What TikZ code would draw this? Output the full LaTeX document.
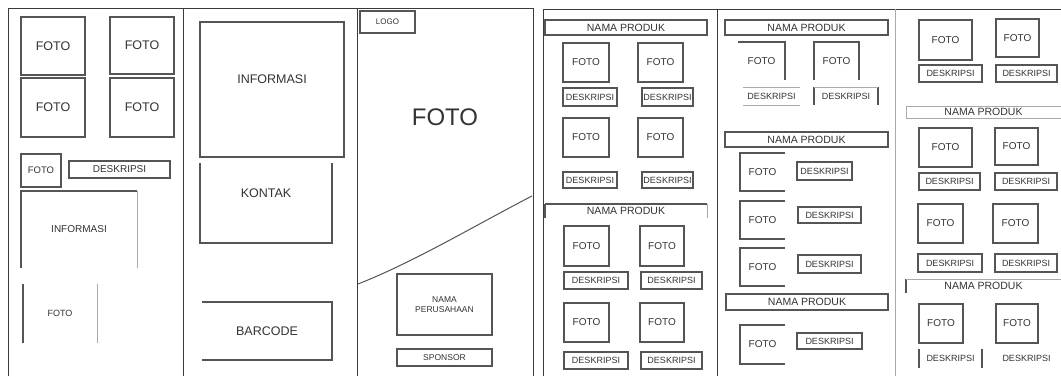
\documentclass[tikz,border=0pt]{standalone}
\usepackage{fontspec}
\setmainfont{Liberation Sans}
\definecolor{linec}{HTML}{555555}
\definecolor{faintc}{HTML}{AAAAAA}
\definecolor{txtc}{HTML}{333333}
\definecolor{framec}{HTML}{3A3A3A}
% name, x1, y1, x2, y2, style, text
\newcommand\wbox[7]{%
  \pgfmathsetmacro\wbcx{(#2+#4)/2}\pgfmathsetmacro\wbcy{(#3+#5)/2}%
  \pgfmathsetmacro\wbw{#4-#2}\pgfmathsetmacro\wbh{#5-#3}%
  \node[lbl, minimum width=\wbw pt, minimum height=\wbh pt, #6] (#1) at (\wbcx,\wbcy) {#7};}
\tikzset{
  ln/.style={draw=linec, line width=1.3pt},
  thin/.style={draw=faintc, line width=1pt},
  frame/.style={draw=framec, line width=1pt},
  lbl/.style={text=txtc, inner sep=0pt, outer sep=0pt, align=center},
  fs/.style={font=\fontsize{#1pt}{#1pt}\selectfont},
  np/.style={fs=10.5},
}
\begin{document}
\begin{tikzpicture}[x=1pt,y=-1pt]
\useasboundingbox[fill=white] (0,0) rectangle (1061,376);
% panel frames
\draw[frame] (8,376) -- (8,8) -- (533,8) -- (533,376);
\draw[frame] (183,8) -- (183,376);
\draw[frame] (357,8) -- (357,376);
\draw[frame] (543,376) -- (543,9) -- (1061,9);
\draw[frame] (717,9) -- (717,376);
\draw[thin] (895,9) -- (895,376);

% ---------- panel 1 ----------
\wbox{a1}{21}{17}{85}{75}{ln,fs=12.5}{FOTO}
\wbox{a2}{110}{17}{174}{74}{ln,fs=12.5}{FOTO}
\wbox{a3}{21}{78}{85}{137}{ln,fs=12.5}{FOTO}
\wbox{a4}{110}{78}{174}{137}{ln,fs=12.5}{FOTO}
\wbox{a5}{21}{154}{61}{187}{ln,fs=9.5}{FOTO}
\wbox{a6}{69}{161}{170}{178}{ln,fs=10}{DESKRIPSI}
\wbox{a7}{21}{191}{137}{268}{fs=10}{INFORMASI}
\draw[ln] (a7.south west) -- (a7.north west) -- (a7.north east);
\draw[thin] (a7.north east) -- (a7.south east);
\wbox{a8}{23}{284}{97}{343}{fs=9}{FOTO}
\draw[ln] (a8.south west) -- (a8.north west);
\draw[thin] (a8.north east) -- (a8.south east);

% ---------- panel 2 ----------
\wbox{b1}{200}{22}{344}{157}{ln,fs=12.5}{INFORMASI\\[8pt]}
\wbox{b2}{200}{163}{332}{243}{fs=12.5}{KONTAK\\[8pt]}
\draw[ln] (b2.north west) -- (b2.south west) -- (b2.south east) -- (b2.north east);
\wbox{b3}{202}{302}{332}{360}{fs=12.5}{BARCODE}
\draw[ln] (b3.north west) -- (b3.north east) -- (b3.south east) -- (b3.south west);

% ---------- panel 3 ----------
\wbox{c1}{360}{11}{415}{33}{ln,fs=8}{LOGO}
\node[lbl, fs=24] (c2) at (445,117) {FOTO};
\coordinate (cl) at (358,284);
\coordinate (cr) at (532,196);
\draw[draw=linec, line width=1pt] (cl) .. controls (414,262) and (474,226) .. (cr);
\wbox{c3}{397}{274}{492}{335}{ln,font=\fontsize{8.5pt}{10pt}\selectfont}{NAMA\\PERUSAHAAN}
\wbox{c4}{397}{349}{492}{366}{ln,fs=8.5}{SPONSOR}

% ---------- panel 4 ----------
\wbox{d0}{545}{20}{707}{35}{ln,np}{NAMA PRODUK}
\wbox{d1}{563}{43}{609}{82}{ln,fs=10}{FOTO}
\wbox{d2}{638}{43}{683}{82}{ln,fs=10}{FOTO}
\wbox{d3}{563}{88}{617}{106}{ln,fs=9}{DESKRIPSI}
\wbox{d4}{642}{88}{693}{106}{ln,fs=9}{DESKRIPSI}
\wbox{d5}{563}{118}{609}{157}{ln,fs=10}{FOTO}
\wbox{d6}{638}{118}{683}{157}{ln,fs=10}{FOTO}
\wbox{d7}{563}{172}{617}{188}{ln,fs=9}{DESKRIPSI}
\wbox{d8}{642}{172}{693}{188}{ln,fs=9}{DESKRIPSI}
\wbox{e0}{545}{204}{707}{218}{np}{NAMA PRODUK}
\draw[draw=linec, line width=2pt] (e0.south west) -- (e0.north west);
\draw[ln] (e0.north west) -- (e0.north east);
\draw[thin] (e0.north east) -- (e0.south east);
\wbox{e1}{564}{226}{609}{266}{ln,fs=10}{FOTO}
\wbox{e2}{640}{226}{684}{266}{ln,fs=10}{FOTO}
\wbox{e3}{564}{272}{628}{289}{ln,fs=9}{DESKRIPSI}
\wbox{e4}{641}{272}{702}{289}{ln,fs=9}{DESKRIPSI}
\wbox{e5}{564}{303}{609}{342}{ln,fs=10}{FOTO}
\wbox{e6}{640}{303}{684}{342}{ln,fs=10}{FOTO}
\wbox{e7}{564}{352}{628}{369}{ln,fs=9}{DESKRIPSI}
\wbox{e8}{641}{352}{702}{369}{ln,fs=9}{DESKRIPSI}

% ---------- panel 5 ----------
\wbox{f0}{725}{20}{888}{35}{ln,np}{NAMA PRODUK}
\wbox{f1}{738}{42}{785}{80}{fs=10}{FOTO}
\draw[ln] (f1.north west) -- (f1.north east) -- (f1.south east);
\wbox{f2}{814}{42}{859}{80}{fs=10}{FOTO}
\draw[ln] (f2.south west) -- (f2.north west) -- (f2.north east) -- (f2.south east);
\wbox{f3}{743}{87}{800}{105}{fs=9}{DESKRIPSI}
\draw[thin] (f3.north west) -- (f3.north east) (f3.south west) -- (f3.south east);
\wbox{f4}{814}{87}{878}{105}{fs=9}{DESKRIPSI}
\draw[ln] (f4.north west) -- (f4.south west) (f4.north east) -- (f4.south east);
\draw[thin] (f4.north west) -- (f4.north east);
\wbox{g0}{725}{132}{888}{147}{ln,np}{NAMA PRODUK}
\wbox{g1}{740}{153}{785}{191}{fs=10}{FOTO}
\draw[ln] (g1.north east) -- (g1.north west) -- (g1.south west) -- (g1.south east);
\wbox{g2}{797}{162}{852}{180}{ln,fs=9}{DESKRIPSI}
\wbox{g3}{740}{201}{785}{239}{fs=10}{FOTO}
\draw[ln] (g3.north east) -- (g3.north west) -- (g3.south west) -- (g3.south east);
\wbox{g4}{798}{207}{861}{223}{ln,fs=9}{DESKRIPSI}
\wbox{g5}{740}{248}{785}{286}{fs=10}{FOTO}
\draw[ln] (g5.north east) -- (g5.north west) -- (g5.south west) -- (g5.south east);
\wbox{g6}{798}{255}{861}{273}{ln,fs=9}{DESKRIPSI}
\wbox{h0}{726}{294}{888}{310}{ln,np}{NAMA PRODUK}
\wbox{h1}{740}{325}{785}{364}{fs=10}{FOTO}
\draw[ln] (h1.north east) -- (h1.north west) -- (h1.south west) -- (h1.south east);
\wbox{h2}{797}{333}{862}{349}{ln,fs=9}{DESKRIPSI}

% ---------- panel 6 ----------
\wbox{k1}{919}{20}{972}{60}{ln,fs=10}{FOTO}
\wbox{k2}{996}{19}{1039}{57}{ln,fs=10}{FOTO}
\wbox{k3}{919}{65}{982}{82}{ln,fs=9}{DESKRIPSI}
\wbox{k4}{996}{65}{1057}{82}{ln,fs=9}{DESKRIPSI}
\wbox{m0}{906}{106}{1061}{118}{np}{NAMA PRODUK}
\draw[thin] (m0.north east) -- (m0.north west) -- (m0.south west) -- (m0.south east);
\wbox{m1}{919}{128}{972}{167}{ln,fs=10}{FOTO}
\wbox{m2}{995}{128}{1038}{165}{ln,fs=10}{FOTO}
\wbox{m3}{919}{173}{980}{190}{ln,fs=9}{DESKRIPSI}
\wbox{m4}{995}{173}{1057}{190}{ln,fs=9}{DESKRIPSI}
\wbox{m5}{918}{204}{963}{243}{ln,fs=10}{FOTO}
\wbox{m6}{993}{204}{1038}{243}{ln,fs=10}{FOTO}
\wbox{m7}{918}{254}{982}{272}{ln,fs=9}{DESKRIPSI}
\wbox{m8}{995}{254}{1057}{272}{ln,fs=9}{DESKRIPSI}
\wbox{n0}{906}{279}{1061}{293}{np}{NAMA PRODUK}
\draw[ln] (n0.south west) -- (n0.north west);
\draw[thin] (n0.north west) -- (n0.north east);
\wbox{n1}{919}{304}{963}{343}{ln,fs=10}{FOTO}
\wbox{n2}{996}{304}{1038}{343}{ln,fs=10}{FOTO}
\wbox{n3}{919}{349}{982}{368}{fs=9}{DESKRIPSI}
\draw[ln] (n3.north west) -- (n3.south west) (n3.north east) -- (n3.south east);
\wbox{n4}{996}{349}{1057}{368}{fs=9}{DESKRIPSI}
\end{tikzpicture}
\end{document}
